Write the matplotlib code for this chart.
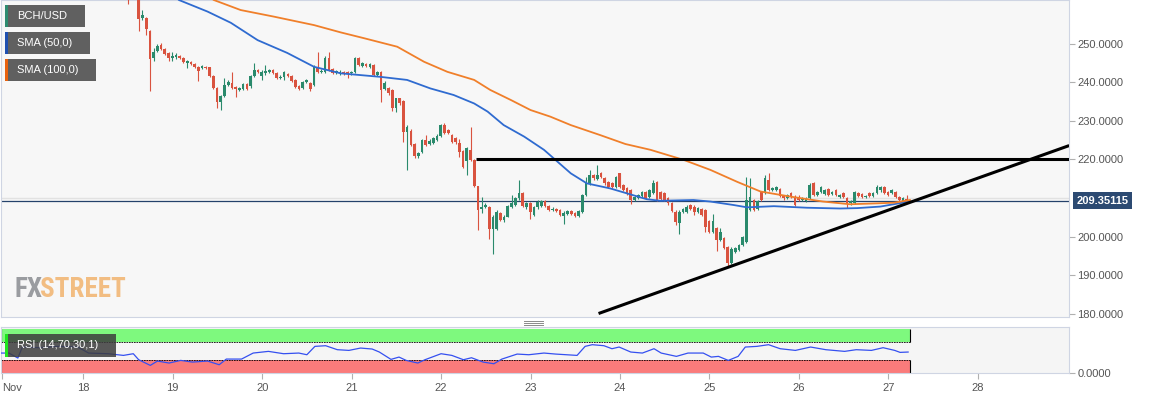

# BCH/USD hourly chart with SMA 50/100, triangle trendlines and RSI panel
import numpy as np
import matplotlib
matplotlib.use('Agg')
import matplotlib.pyplot as plt
from matplotlib.patches import Rectangle
from matplotlib.lines import Line2D
import matplotlib.transforms as mtransforms

W, H = 1153, 399
plt.rcParams['font.family'] = ['Liberation Sans', 'DejaVu Sans']

# hourly candles, first candle = hour 35 after Nov 17 00:00
FIRST_HOUR = 35

opens = [263.0, 262.0, 262.8,
         262.5, 256.6, 256.7, 253.4, 246.3, 248.1, 249.7, 248.6, 247.6, 246.3,
         246.5, 246.8, 246.3, 245.0, 245.3, 244.7, 243.9, 243.7, 243.9, 243.9,
         241.6, 238.5, 234.9, 236.4, 239.3, 239.8, 238.8, 238.0, 238.3, 239.5,
         239.0, 241.6, 243.2, 241.6, 242.4, 242.7, 243.2, 242.4, 241.1, 241.4,
         242.1, 241.6, 240.6, 239.0, 238.5, 240.1, 239.8, 239.3, 243.9, 242.7,
         242.7, 246.3, 243.4, 242.4, 242.4, 242.7, 242.7, 242.3, 242.7, 246.2,
         244.2, 244.7, 244.0, 244.5, 241.9, 242.6, 238.2, 238.4, 238.0, 233.2,
         235.8, 235.2, 227.2, 227.5, 224.0, 220.8, 222.0, 225.1, 223.9, 224.3,
         225.0, 226.1, 228.9, 227.6, 226.3, 225.5, 224.2, 222.2, 219.5, 222.5,
         219.9, 213.0, 207.1, 207.7, 207.6, 201.9, 202.0, 206.2, 204.2, 205.2,
         207.7, 208.2, 209.9, 211.4, 207.6, 208.6, 205.6, 207.6, 208.0, 209.3,
         207.9, 206.9, 207.2, 206.9, 205.4, 206.0, 206.6, 206.2, 205.3, 206.5,
         210.8, 213.8, 216.0, 215.0, 216.4, 215.1, 214.2, 213.8, 212.9, 216.4,
         213.4, 212.5, 212.1, 209.5, 210.0, 210.5, 211.6, 210.3, 211.3, 214.2,
         211.6, 211.3, 209.9, 208.8, 206.5, 203.6, 206.4, 206.4, 208.2, 207.8,
         206.4, 207.2, 206.9, 204.1, 201.3, 202.2, 199.2, 199.6, 197.4, 193.2,
         196.1, 196.5, 197.8, 198.6, 206.9, 209.5, 207.2, 211.6, 211.3, 214.8,
         212.2, 212.1, 212.3, 210.5, 210.0, 211.3, 210.4, 210.4, 209.5, 209.3,
         210.1, 213.8, 210.8, 211.6, 211.1, 212.3, 211.0, 212.1, 210.4, 211.3,
         210.0, 208.6, 208.8, 211.2, 211.0, 210.3, 211.3, 210.5, 211.3, 212.0,
         212.9, 211.6, 211.3, 211.6, 210.3, 209.2, 209.8]
highs = [264.0, 263.5, 263.6,
         262.8, 258.7, 257.0, 253.6, 248.9, 250.0, 250.2, 248.9, 247.8, 247.8,
         247.6, 247.1, 246.5, 245.8, 245.6, 245.0, 244.1, 244.5, 244.2, 244.0,
         241.8, 238.7, 236.7, 241.1, 240.6, 242.7, 239.0, 238.8, 239.8, 239.8,
         241.9, 245.0, 243.4, 243.2, 244.5, 243.4, 243.4, 242.6, 241.9, 243.0,
         242.4, 241.9, 240.8, 239.3, 240.3, 240.8, 240.1, 244.5, 247.8, 243.4,
         246.8, 247.8, 243.7, 243.2, 243.2, 243.0, 242.9, 242.9, 246.5, 246.5,
         245.2, 245.0, 245.0, 244.7, 243.0, 242.9, 240.2, 238.7, 238.2, 236.0,
         236.0, 235.4, 228.9, 228.0, 224.3, 222.0, 225.3, 226.3, 225.3, 225.8,
         226.6, 229.3, 229.4, 227.9, 226.6, 225.8, 225.3, 222.5, 223.2, 228.3,
         220.1, 213.2, 210.4, 208.7, 208.0, 205.5, 206.8, 206.5, 205.5, 208.2,
         210.8, 210.2, 214.8, 211.6, 208.9, 208.9, 207.9, 209.4, 209.6, 209.6,
         208.2, 207.6, 207.5, 207.2, 206.6, 206.9, 206.9, 206.5, 206.9, 211.1,
         215.5, 217.4, 216.3, 218.6, 216.7, 215.4, 214.5, 214.1, 215.8, 216.6,
         213.7, 212.8, 212.4, 210.6, 211.1, 211.9, 211.9, 212.4, 214.8, 214.5,
         211.9, 211.6, 210.2, 209.1, 206.8, 206.8, 207.5, 208.1, 208.5, 208.1,
         207.7, 207.5, 207.2, 204.4, 205.9, 202.5, 202.2, 199.9, 197.7, 197.2,
         197.3, 198.1, 200.2, 215.5, 215.2, 209.8, 209.6, 211.9, 215.9, 216.6,
         212.9, 213.1, 212.6, 210.8, 211.1, 211.6, 210.7, 210.7, 210.3, 210.2,
         213.8, 214.1, 211.9, 213.2, 212.4, 212.6, 211.9, 212.4, 211.1, 211.6,
         210.3, 209.6, 211.9, 211.5, 211.3, 210.9, 211.6, 211.5, 213.4, 213.2,
         213.2, 211.9, 212.4, 211.9, 210.6, 210.2, 210.8]
lows = [260.3, 261.5, 261.9,
        253.3, 256.1, 252.3, 237.7, 245.5, 247.8, 248.3, 247.0, 245.5, 245.5,
        246.0, 246.0, 244.9, 243.7, 244.4, 243.6, 240.3, 243.4, 243.4, 241.3,
        238.3, 233.3, 232.8, 236.2, 239.0, 238.3, 236.2, 237.7, 238.0, 238.0,
        238.5, 241.4, 242.4, 240.6, 241.9, 242.4, 242.1, 240.8, 240.8, 240.6,
        241.4, 240.1, 238.5, 238.0, 238.3, 239.8, 237.7, 239.0, 242.4, 242.4,
        242.4, 242.9, 242.1, 242.1, 241.9, 241.9, 241.0, 242.0, 242.4, 244.2,
        243.9, 243.9, 243.7, 241.6, 241.6, 235.0, 238.0, 236.8, 232.6, 232.4,
        234.2, 224.6, 217.3, 223.4, 220.5, 220.5, 221.7, 223.4, 223.7, 224.0,
        224.8, 225.9, 226.5, 226.5, 224.3, 224.1, 220.7, 217.8, 216.0, 219.6,
        212.8, 201.7, 206.1, 207.4, 199.3, 195.5, 201.7, 204.0, 203.9, 205.0,
        207.4, 208.0, 209.6, 207.7, 207.3, 204.5, 205.3, 207.3, 207.7, 207.6,
        206.6, 206.6, 206.3, 205.3, 203.2, 205.7, 205.7, 205.0, 205.0, 206.2,
        210.5, 213.5, 214.8, 214.7, 215.2, 213.5, 212.6, 212.6, 212.6, 212.6,
        211.8, 210.9, 208.4, 209.2, 209.7, 210.2, 209.7, 210.0, 211.0, 209.2,
        209.4, 209.2, 208.3, 206.3, 203.0, 200.7, 206.1, 206.1, 206.8, 205.6,
        206.1, 205.3, 201.3, 201.0, 201.0, 196.3, 198.9, 196.7, 192.2, 192.9,
        195.8, 196.2, 197.5, 198.3, 206.6, 206.6, 206.9, 209.2, 211.0, 211.8,
        211.9, 211.8, 210.2, 209.6, 209.7, 210.1, 207.9, 209.2, 209.2, 209.0,
        209.8, 210.5, 210.5, 211.3, 210.8, 210.5, 210.7, 210.5, 210.1, 210.0,
        207.4, 208.3, 208.5, 210.2, 210.0, 210.0, 210.2, 210.2, 211.0, 211.7,
        211.0, 210.6, 211.0, 210.0, 209.2, 208.9, 209.1]
closes = [262.0, 262.8, 262.5,
          256.4, 257.4, 253.8, 246.1, 247.9, 249.4, 248.6, 247.3, 246.3, 246.8,
          247.1, 246.3, 245.3, 245.4, 244.7, 243.9, 242.9, 244.2, 243.7, 241.6,
          238.5, 234.9, 236.4, 239.3, 240.1, 238.5, 238.3, 238.5, 239.5, 238.3,
          241.6, 243.2, 242.7, 242.7, 242.9, 243.2, 242.4, 241.1, 241.4, 242.7,
          241.6, 240.3, 238.8, 238.3, 240.1, 240.6, 238.3, 244.2, 242.7, 243.0,
          246.3, 243.2, 242.4, 242.9, 242.7, 242.1, 242.3, 242.6, 246.2, 244.5,
          244.9, 244.2, 244.7, 241.9, 242.7, 238.0, 239.9, 237.1, 233.2, 235.8,
          234.5, 227.2, 228.5, 223.7, 220.8, 221.7, 225.0, 223.7, 224.9, 225.5,
          226.1, 228.9, 226.8, 226.8, 224.6, 224.4, 222.0, 218.1, 222.9, 219.9,
          213.0, 206.9, 207.7, 208.2, 201.9, 205.2, 206.5, 204.3, 205.2, 207.9,
          208.6, 209.9, 211.2, 208.0, 208.6, 206.5, 207.6, 209.1, 209.3, 207.9,
          206.9, 207.3, 206.6, 205.6, 206.1, 206.6, 206.0, 205.3, 206.6, 210.8,
          213.8, 216.0, 215.1, 216.0, 215.5, 213.8, 212.9, 212.9, 215.5, 212.9,
          212.1, 211.2, 209.5, 210.3, 210.8, 211.6, 210.0, 212.1, 213.8, 209.5,
          209.7, 209.5, 208.6, 206.6, 203.9, 206.5, 207.2, 207.8, 207.1, 206.5,
          207.4, 205.6, 202.4, 201.3, 204.1, 199.2, 201.3, 197.0, 193.1, 196.9,
          197.0, 197.8, 199.9, 209.5, 210.4, 206.9, 209.3, 209.5, 215.1, 212.1,
          212.6, 212.8, 210.5, 209.9, 210.8, 210.4, 208.2, 209.5, 210.0, 209.9,
          213.4, 210.8, 211.6, 212.9, 212.1, 210.8, 211.6, 210.8, 210.8, 210.3,
          208.6, 209.3, 211.6, 210.5, 210.3, 210.6, 210.5, 211.2, 212.9, 212.9,
          211.3, 210.9, 212.1, 210.3, 209.5, 209.9, 209.35]

LAST_PRICE = 209.35115

# moving averages (x = day of November)
sma50_days = [18.95, 19.07, 19.39, 19.65, 19.95, 20.28, 20.58, 20.88, 21.32, 21.62,
              21.88, 22.14, 22.37, 22.52, 22.70, 22.93, 23.15, 23.45, 23.63, 23.89,
              24.08, 24.30, 24.45, 24.82, 25.01, 25.27, 25.42, 25.72, 26.09, 26.46,
              26.65, 26.91, 27.13, 27.24]
sma50_vals = [264.0, 261.3, 258.3, 255.4, 250.9, 247.6, 244.0, 242.3, 241.4, 240.6,
              238.4, 236.7, 234.5, 232.4, 228.9, 225.9, 222.5, 216.4, 213.8, 212.5,
              211.2, 209.7, 209.3, 209.5, 209.1, 208.2, 207.6, 207.9, 207.5, 207.3,
              207.4, 207.8, 208.7, 209.1]
sma100_days = [19.30, 19.46, 19.76, 20.13, 20.58, 20.88, 21.14, 21.51, 21.81, 22.07,
               22.37, 22.55, 22.78, 23.00, 23.22, 23.45, 23.78, 24.06, 24.34, 24.71,
               25.01, 25.31, 25.57, 25.90, 26.27, 26.57, 26.83, 27.06, 27.24]
sma100_vals = [264.0, 261.3, 258.7, 257.0, 254.8, 252.9, 251.4, 249.2, 245.3, 242.7,
               240.6, 238.0, 235.4, 232.8, 231.1, 228.9, 226.3, 224.0, 222.5, 219.9,
               217.3, 214.2, 211.7, 210.4, 209.1, 208.4, 208.6, 208.8, 209.5]

# drawn trendlines
resist_days = [22.39, 29.02]
resist_vals = [220.0, 220.0]
support_days = [23.76, 29.02]
support_vals = [180.1, 223.6]

# RSI (14)
rsi_days = [17.08, 17.17, 17.27, 17.32, 17.51, 17.72, 17.94, 18.06, 18.28, 18.45,
            18.56, 18.62, 18.75, 18.83, 18.96, 19.09, 19.22, 19.39, 19.52, 19.60,
            19.77, 19.90, 20.07, 20.24, 20.41, 20.50, 20.59, 20.71, 20.84, 20.97,
            21.10, 21.23, 21.31, 21.44, 21.53, 21.61, 21.74, 21.82, 22.00, 22.12,
            22.25, 22.34, 22.47, 22.59, 22.68, 22.85, 22.98, 23.15, 23.28, 23.52,
            23.61, 23.69, 23.82, 23.91, 23.99, 24.12, 24.25, 24.38, 24.46, 24.63,
            24.76, 24.93, 25.02, 25.10, 25.21, 25.32, 25.40, 25.53, 25.66, 25.79,
            25.96, 26.13, 26.30, 26.51, 26.64, 26.81, 26.94, 27.07, 27.13, 27.22]
rsi_vals = [45.1, 45.1, 33.8, 58.7, 57.2, 60.2, 58.7, 45.1, 43.6, 39.8,
            43.6, 30.0, 17.2, 27.0, 22.5, 28.5, 24.7, 27.0, 18.7, 31.5,
            31.5, 45.1, 48.9, 43.6, 45.1, 41.3, 60.2, 61.7, 52.7, 51.1,
            56.4, 54.2, 47.4, 30.8, 36.0, 28.5, 22.5, 30.0, 43.6, 39.8,
            30.0, 34.5, 24.7, 20.9, 31.5, 42.8, 41.3, 45.1, 42.8, 39.8,
            60.2, 64.0, 61.7, 54.9, 58.7, 47.4, 45.1, 54.9, 45.1, 37.6,
            45.1, 45.1, 36.0, 37.6, 28.5, 37.6, 58.7, 60.2, 64.0, 54.9,
            51.1, 58.7, 52.7, 48.9, 52.7, 51.1, 57.2, 51.1, 46.6, 47.4]

# 210 is hidden behind the last-price tag in the original
price_ticks = [180, 190, 200, 220, 230, 240, 250]
day_ticks = [18, 19, 20, 21, 22, 23, 24, 25, 26, 27, 28]
day_labels = ['18', '19', '20', '21', '22', '23', '24', '25', '26', '27', '28']

# colours
GREEN = '#2a8a6c'
RED = '#d9533f'
BLUE = '#2f6bd0'
ORANGE = '#f07f2a'
BORDER = '#cfd5e3'
TXT = '#555555'
X0, X1 = 17.0815, 29.018

fig = plt.figure(figsize=(W / 100, H / 100), dpi=100)
fig.patch.set_facecolor('white')

# ---- main price panel ----
ax = fig.add_axes([1 / W, 1 - 317 / H, 1068 / W, 317 / H])
ax.set_facecolor('#f7f7f7')
ax.set_xlim(X0, X1)
ax.set_ylim(179.2, 261.3)
for s in ax.spines.values():
    s.set_color(BORDER)
ax.set_yticks([180, 190, 200, 210, 220, 230, 240, 250], minor=True)
ax.yaxis.grid(True, which='minor', color='#e2e2e2', lw=1)
ax.set_axisbelow(True)
ax.set_xticks([])
ax.yaxis.tick_right()
ax.set_yticks(price_ticks)
ax.set_yticklabels([f'{v:.4f}' for v in price_ticks])
ax.tick_params(axis='y', which='major', length=4, color='#b0b0b0', labelsize=8,
               labelcolor=TXT, pad=2)
ax.tick_params(axis='y', which='minor', length=0)

o = np.array(opens)
hi = np.array(highs)
lo = np.array(lows)
c = np.array(closes)
t = 17 + (FIRST_HOUR + np.arange(len(c)) + 0.9) / 24
cols = np.where(c >= o, GREEN, RED)
ax.vlines(t, lo, hi, colors=cols, lw=0.8, zorder=3)
ax.bar(t, np.maximum(np.abs(c - o), 0.2), bottom=np.minimum(o, c), width=0.03,
       color=cols, lw=0, zorder=4)

ax.axhline(LAST_PRICE, color='#25426b', lw=0.9, zorder=2)
ax.plot(sma50_days, sma50_vals, color=BLUE, lw=1.3, zorder=5)
ax.plot(sma100_days, sma100_vals, color=ORANGE, lw=1.3, zorder=5)
ax.plot(resist_days, resist_vals, color='black', lw=2.2, zorder=6, solid_capstyle='butt')
ax.plot(support_days, support_vals, color='black', lw=2.2, zorder=6, solid_capstyle='butt')

trans = mtransforms.blended_transform_factory(ax.transAxes, ax.transData)
ax.text(1.0072, LAST_PRICE, f'{LAST_PRICE:.5f}', transform=trans, ha='left', va='center',
        color='white', fontsize=8, fontweight='bold', clip_on=False,
        bbox=dict(boxstyle='square,pad=0.3', fc='#2c4a72', ec='none'))

# ---- RSI panel ----
ax2 = fig.add_axes([1 / W, 1 - 373 / H, 1068 / W, 46 / H])
ax2.set_facecolor('#f5f5f5')
ax2.set_xlim(X0, X1)
ax2.set_ylim(0, 104)
for s in ax2.spines.values():
    s.set_color(BORDER)
band_end = t[-1] + 0.035
ax2.add_patch(Rectangle((X0, 70), band_end - X0, 30, fc='#7ef97e', ec='none', zorder=1))
ax2.add_patch(Rectangle((X0, 0), band_end - X0, 30, fc='#fa7b7b', ec='none', zorder=1))
ax2.hlines([70, 30], X0, band_end, colors='black', linestyles=(0, (2, 1)), lw=0.6, zorder=2)
ax2.vlines([X0 + 0.004, band_end], 70, 100, colors='black', lw=0.8, zorder=2)
ax2.vlines([X0 + 0.004, band_end], 0, 30, colors='black', lw=0.8, zorder=2)
ax2.plot(rsi_days, rsi_vals, color='#3550f0', lw=0.9, zorder=3)

ax2.yaxis.tick_right()
ax2.set_yticks([0])
ax2.set_yticklabels(['0.0000'])
ax2.tick_params(axis='y', length=4, color='#b0b0b0', labelsize=8, labelcolor=TXT, pad=2)
ax2.set_xticks([X0 + 0.01] + day_ticks)
ax2.set_xticklabels(['Nov'] + day_labels)
ax2.tick_params(axis='x', length=4, color='#b0b0b0', labelsize=8, labelcolor=TXT, pad=3)
ax2.get_xticklabels()[0].set_ha('left')


# ---- overlays in pixel space ----
def fig_rect(x, y, w, h, **kw):
    fig.add_artist(Rectangle((x / W, 1 - (y + h) / H), w / W, h / H,
                             transform=fig.transFigure, **kw))


def legend_box(y, w, strip, label):
    fig_rect(5, y, w, 21.5, fc='#606060', ec='none')
    fig_rect(5, y, 3, 21.5, fc=strip, ec='none')
    fig.text(17 / W, 1 - (y + 11) / H, label, color='white', fontsize=8, va='center')


legend_box(5, 80, '#2e8b70', 'BCH/USD')
legend_box(32, 85, '#1f50b0', 'SMA (50,0)')
legend_box(59, 91, '#e8620f', 'SMA (100,0)')

fig_rect(7.7, 334, 108, 23, fc='#3d3d3d', ec='none', alpha=0.85)
fig_rect(4.6, 334, 3.1, 23, fc='#1ee61e', ec='none')
fig.text(17 / W, 1 - 345.5 / H, 'RSI (14,70,30,1)', color='white', fontsize=8, va='center')

# panel resize handle
for yy in (321, 323, 325):
    fig.add_artist(Line2D([524 / W, 543 / W], [1 - yy / H] * 2, color='#8a8a8a', lw=0.7,
                          transform=fig.transFigure))

# watermark
WM_FONT = ['Roboto Condensed', 'Liberation Sans Narrow', 'Liberation Sans', 'DejaVu Sans']
fx = fig.text(14 / W, 1 - 297 / H, 'FX', color='#9a9ca0', fontsize=19.5, fontweight='bold',
              family=WM_FONT, va='baseline')
fig.canvas.draw()
bb = fx.get_window_extent()
fig.text((bb.x1 - 2) / W, 1 - 297 / H, 'STREET', color='#f2bd82', fontsize=19.5,
         fontweight='bold', family=WM_FONT, va='baseline')

fig.savefig('out.png', dpi=100)
